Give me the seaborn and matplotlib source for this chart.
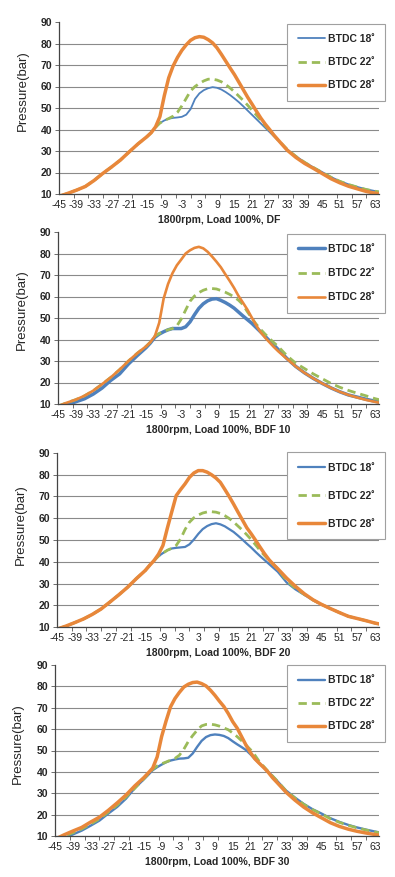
import numpy as np
import pandas as pd
import matplotlib
matplotlib.use("Agg")
import matplotlib.pyplot as plt
import seaborn as sns

sns.set_theme(style="white")
plt.rcParams['font.family'] = ['Liberation Sans', 'DejaVu Sans']
plt.rcParams['axes.unicode_minus'] = False

# crank angle (deg), finer around TDC where the curves bend most
angle = [-45, -42, -39, -36, -33, -30, -27, -24, -21, -18, -15,
         -13.5, -12, -10.5, -9, -7.5, -6, -4.5, -3, -1.5, 0, 1.5, 3, 4.5, 6,
         7.5, 9, 10.5, 12, 13.5, 15, 16.5, 18, 19.5, 21, 22.5, 24, 25.5, 27,
         28.5,
         30, 33, 36, 39, 42, 45, 48, 51, 54, 57, 60, 63, 66]

series_labels = ["BTDC 18˚", "BTDC 22˚", "BTDC 28˚"]
panel_titles = ["1800rpm, Load 100%, DF", "1800rpm, Load 100%, BDF 10",
                "1800rpm, Load 100%, BDF 20", "1800rpm, Load 100%, BDF 30"]

# ---- DF ----
df_18 = [8.9, 10.3, 11.8, 13.5, 16.3, 19.6, 22.6, 25.8, 29.6, 33.3, 36.6,
         38.5, 41.0, 43.0, 44.2, 45.0, 45.4, 45.6, 45.9, 46.9, 49.5, 54.2, 56.8,
         58.3, 59.2, 59.7, 59.4, 58.6, 57.4, 56.0, 54.4, 52.7, 50.8, 48.8, 46.8,
         44.8, 42.8, 40.8, 38.8, 36.8,
         34.8, 30.8, 27.6, 24.8, 22.4, 20.2, 17.9, 16.0, 14.5, 13.3, 12.2, 11.4,
         10.7]
df_22 = [8.9, 10.3, 11.8, 13.5, 16.3, 19.6, 22.6, 25.8, 29.6, 33.3, 36.6,
         38.5, 41.0, 43.0, 44.2, 45.1, 46.2, 48.0, 51.0, 54.5, 58.0, 60.0, 61.4,
         62.6, 63.4, 63.4, 63.0, 62.2, 60.9, 59.3, 57.5, 55.5, 53.5, 51.3, 49.0,
         46.7, 44.3, 41.9, 39.5, 37.3,
         35.0, 30.8, 27.5, 24.7, 22.3, 20.0, 17.8, 15.9, 14.4, 13.2, 12.1, 11.3,
         10.6]
df_28 = [8.9, 10.3, 11.8, 13.5, 16.3, 19.6, 22.6, 25.8, 29.6, 33.3, 36.6,
         38.5, 41.2, 46.0, 55.7, 64.0, 69.5, 73.5, 76.8, 79.4, 81.5, 82.7, 83.2,
         82.9, 81.8, 80.3, 78.0, 75.0, 71.8, 68.6, 65.5, 62.0, 58.5, 55.0, 51.8,
         48.5, 45.3, 42.5, 40.0, 37.3,
         35.0, 30.4, 27.0, 24.2, 21.9, 19.5, 17.1, 15.2, 13.6, 12.4, 11.2, 10.4,
         9.7]

# ---- BDF 10 ----
b10_18 = [8.2, 9.6, 11.0, 12.4, 14.6, 17.4, 21.0, 24.0, 28.6, 32.5, 36.2,
          38.4, 41.0, 42.5, 43.6, 44.5, 45.1, 45.1, 45.1, 45.9, 48.2, 51.5, 54.5,
          56.6, 58.0, 58.8, 59.0, 58.2, 57.2, 56.0, 54.6, 52.8, 51.0, 49.3, 47.6,
          45.6, 43.6, 41.6, 39.5, 37.5,
          35.4, 31.2, 27.5, 24.5, 21.9, 19.6, 17.5, 15.7, 14.2, 13.2, 12.2, 11.3,
          10.6]
b10_22 = [9.0, 10.6, 12.0, 13.8, 16.2, 19.2, 22.4, 26.0, 30.0, 33.6, 36.8,
          38.8, 41.5, 42.8, 43.8, 44.5, 45.1, 46.3, 49.5, 53.7, 57.8, 60.2, 61.8,
          62.9, 63.6, 63.7, 63.5, 62.8, 62.0, 61.0, 59.8, 58.3, 56.3, 53.0, 50.0,
          47.2, 44.8, 42.6, 40.6, 38.6,
          36.8, 32.5, 29.0, 26.5, 24.0, 21.8, 19.6, 17.8, 16.3, 15.0, 13.8, 12.5,
          11.5]
b10_28 = [9.0, 10.6, 12.0, 13.8, 16.2, 19.2, 22.4, 26.0, 30.0, 33.6, 36.8,
          38.8, 41.5, 47.8, 59.0, 65.8, 70.8, 74.5, 77.2, 80.0, 81.5, 82.6, 83.1,
          82.4, 80.8, 78.6, 76.2, 73.6, 70.4, 67.3, 64.0, 60.3, 57.2, 54.0, 50.3,
          46.7, 43.5, 41.0, 38.8, 36.6,
          34.6, 31.0, 27.5, 24.5, 21.9, 19.6, 17.5, 15.7, 14.2, 13.0, 11.9, 11.0,
          10.2]

# ---- BDF 20 ----
b20_18 = [9.0, 10.4, 12.0, 13.7, 15.8, 18.3, 21.5, 24.8, 28.3, 32.3, 36.0,
          38.4, 40.6, 42.6, 44.0, 45.3, 46.1, 46.4, 46.6, 46.8, 48.0, 50.2, 52.8,
          55.0, 56.4, 57.3, 57.7, 57.2, 56.3, 55.0, 53.7, 52.0, 50.2, 48.3, 46.5,
          44.5, 42.6, 40.8, 39.0, 37.2,
          35.4, 30.5, 27.3, 24.8, 22.3, 20.3, 18.4, 16.6, 14.9, 13.9, 12.9, 11.8,
          11.0]
b20_22 = [9.0, 10.4, 12.0, 13.7, 15.8, 18.3, 21.5, 24.8, 28.3, 32.3, 36.0,
          38.4, 40.6, 42.6, 44.0, 45.3, 46.2, 47.5, 50.5, 54.8, 58.2, 60.2, 61.5,
          62.4, 62.9, 63.0, 62.8, 62.2, 61.2, 59.9, 58.3, 56.4, 54.5, 52.4, 50.2,
          47.7, 45.2, 42.9, 40.7, 38.8,
          36.8, 31.3, 27.8, 25.0, 22.4, 20.3, 18.4, 16.6, 14.9, 13.9, 12.9, 11.8,
          11.0]
b20_28 = [9.0, 10.4, 12.0, 13.7, 15.8, 18.3, 21.5, 24.8, 28.3, 32.3, 36.0,
          38.4, 40.6, 43.5, 47.5, 55.5, 63.0, 70.4, 73.2, 75.8, 78.8, 80.8, 81.9,
          81.9, 81.2, 80.0, 78.5, 76.5, 73.3, 70.0, 66.5, 62.8, 59.2, 55.6, 52.8,
          49.8, 46.7, 43.7, 41.0, 38.8,
          36.8, 32.5, 28.7, 25.3, 22.5, 20.3, 18.4, 16.6, 14.9, 13.9, 12.9, 11.8,
          11.0]

# ---- BDF 30 ----
b30_18 = [8.0, 9.0, 10.7, 12.5, 14.8, 17.2, 20.5, 23.6, 27.5, 32.5, 36.5,
          38.6, 40.8, 42.2, 43.4, 44.5, 45.3, 45.8, 46.2, 46.3, 46.6, 48.6, 51.7,
          54.5, 56.3, 57.2, 57.5, 57.3, 56.8, 55.8, 54.3, 52.9, 51.6, 50.2, 48.2,
          46.0, 44.0, 42.0, 40.0, 38.0,
          35.8, 31.3, 28.0, 25.0, 22.5, 20.5, 18.3, 16.6, 15.2, 14.0, 13.0, 12.1,
          11.3]
b30_22 = [8.3, 9.8, 11.5, 13.3, 15.6, 18.0, 21.2, 24.5, 28.3, 32.4, 36.8,
          39.0, 41.2, 42.8, 43.8, 44.6, 45.5, 46.3, 47.8, 50.6, 54.2, 57.0, 59.5,
          61.5, 62.2, 62.3, 62.0, 61.4, 60.6, 59.7, 58.2, 56.5, 54.6, 52.5, 50.4,
          47.8, 44.8, 42.5, 40.2, 38.0,
          35.8, 31.1, 27.8, 24.8, 22.3, 20.3, 18.1, 16.4, 15.0, 13.8, 12.8, 11.9,
          11.1]
b30_28 = [8.5, 10.5, 12.3, 14.0, 16.5, 18.8, 22.0, 25.5, 29.2, 33.5, 37.3,
          39.5, 41.8, 47.0, 56.5, 63.8, 70.4, 74.3, 77.2, 79.7, 81.0, 81.8, 82.0,
          81.3, 80.2, 78.2, 75.8, 73.1, 70.6, 67.3, 63.5, 60.5, 56.5, 52.5, 49.0,
          46.1, 44.0, 42.0, 39.8, 37.2,
          35.0, 30.5, 26.8, 23.5, 20.8, 18.5, 16.2, 14.5, 13.2, 12.2, 11.4, 10.7,
          10.0]

panel_data = [(df_18, df_22, df_28), (b10_18, b10_22, b10_28),
              (b20_18, b20_22, b20_28), (b30_18, b30_22, b30_28)]

colors = ['#4F81BD', '#9BBB59', '#E8873A']
widths = [(1.3, 2.0, 2.5), (2.5, 2.0, 1.9), (1.6, 2.0, 2.5), (1.7, 2.0, 2.5)]

# axes boxes in figure pixels: left, top, right, bottom
boxes = [(59, 22, 379, 194), (58, 232, 379, 404),
         (57, 453, 379, 627), (55, 665, 379, 836)]
# legend right/top anchors (axes fraction) and label spacing
legend_opts = [((1.019, 0.99), 1.25), ((1.019, 0.99), 1.35),
               ((1.019, 1.005), 1.75), ((1.019, 1.0), 1.25)]
ylabel_y = [0.6, 0.55, 0.59, 0.54]

W, H = 395, 877
fig = plt.figure(figsize=(W / 100, H / 100), dpi=100)

for i, (series, title) in enumerate(zip(panel_data, panel_titles)):
    l, t, r, b = boxes[i]
    ax = fig.add_axes([l / W, 1 - b / H, (r - l) / W, (b - t) / H])

    for j, (vals, lab) in enumerate(zip(series, series_labels)):
        d = pd.DataFrame({'angle': angle, 'p': vals})
        sns.lineplot(data=d, x='angle', y='p', ax=ax, color=colors[j],
                     linewidth=widths[i][j], label=lab,
                     linestyle='--' if j == 1 else '-')
    ax.lines[1].set_dashes((3.0, 1.8))
    for ln in ax.lines:
        ln.set_solid_joinstyle('round')

    ax.set_xlim(-45, 64.4)
    ax.set_ylim(10, 90)
    ax.set_yticks(range(10, 91, 10))
    ax.set_xticks(range(-45, 64, 6))
    ax.set_xticks(range(-45, 65, 5), minor=True)
    ax.tick_params(axis='x', which='major', length=0, pad=4, labelsize=7.5)
    ax.tick_params(axis='x', which='minor', length=3, width=0.6, direction='out',
                   color='#555555', bottom=True)
    ax.tick_params(axis='y', length=3, width=0.6, direction='out', left=True,
                   color='#555555', pad=2, labelsize=7.5)
    for lbl in ax.get_yticklabels():
        lbl.set_fontweight('bold')

    ax.yaxis.grid(True, color='#8a8a8a', linewidth=0.8)
    ax.xaxis.grid(False)
    ax.get_ygridlines()[-1].set_visible(False)
    ax.set_axisbelow(True)
    for s in ['top', 'right']:
        ax.spines[s].set_visible(False)
    for s in ['left', 'bottom']:
        ax.spines[s].set_color('#444444')
        ax.spines[s].set_linewidth(0.9)

    ax.set_xlabel(title, fontsize=7.5, fontweight='bold', labelpad=4)
    ax.set_ylabel("Pressure(bar)", fontsize=9.5, labelpad=5)
    ax.yaxis.set_label_coords(-0.095, ylabel_y[i])

    anchor, spacing = legend_opts[i]
    leg = ax.legend(loc='upper right', bbox_to_anchor=anchor, borderaxespad=0,
                    fancybox=False, frameon=True, edgecolor='#a0a0a0',
                    framealpha=1, handlelength=2.6,
                    handletextpad=0.3, labelspacing=spacing, borderpad=1.0,
                    prop={'weight': 'bold', 'size': 7.5})
    leg.get_frame().set_linewidth(0.8)

fig.savefig("out.png", dpi=100)
